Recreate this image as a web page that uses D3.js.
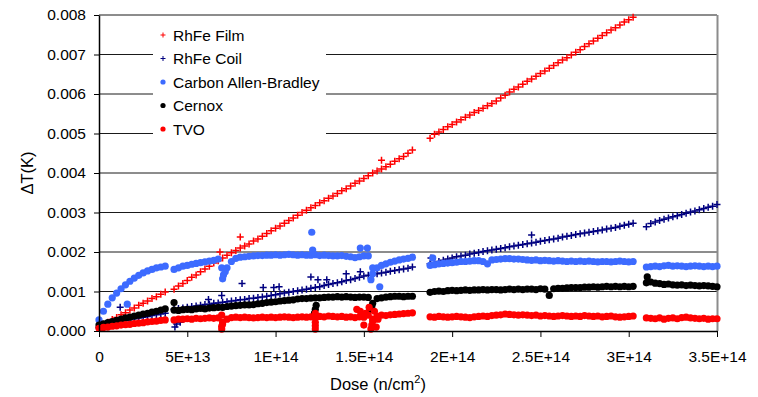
<!DOCTYPE html>
<html>
<head>
<meta charset="utf-8">
<script src="https://cdn.jsdelivr.net/npm/d3@7"></script>
<style>
  body { margin: 0; background: #fff; }
  svg { display: block; }
  text { font-family: "Liberation Sans", Arial, Helvetica, sans-serif; fill: #000; }
</style>
</head>
<body>
<svg id="chart" width="758" height="397"></svg>
<script>
// Neutron dose, in units of 1e12 n/cm² (four irradiation runs)
const dose = [
  0, 2.5, 5, 7.5, 10, 12.5, 15, 17.5, 20, 22.5, 25, 27.5, 30, 32.5, 35, 37.5,
  42.5, 45, 47.5, 50, 52.5, 55, 57.5, 60, 62.5, 65, 67.5,
  70, 72.5, 75, 77.5, 80, 82.5, 85, 87.5, 90, 92.5, 95,
  97.5, 100, 102.5, 105, 107.5, 110, 112.5, 115, 117.5, 120, 122.5,
  125, 127.5, 130, 132.5, 135, 137.5, 140, 142.5, 145, 147.5, 150,
  152.5, 155, 157.5, 160, 162.5, 165, 167.5, 170, 172.5, 175, 177.5,
  187.5, 190, 192.5, 195, 197.5, 200, 202.5, 205, 207.5, 210, 212.5,
  215, 217.5, 220, 222.5, 225, 227.5, 230, 232.5, 235, 237.5, 240,
  242.5, 245, 247.5, 250, 252.5, 255, 257.5, 260, 262.5, 265, 267.5,
  270, 272.5, 275, 277.5, 280, 282.5, 285, 287.5, 290, 292.5, 295,
  297.5, 300, 302.5,
  310, 312.5, 315, 317.5, 320, 322.5, 325, 327.5, 330, 332.5, 335, 337.5, 340, 342.5, 345, 347.5, 350
];

// Temperature shift ΔT of each sensor, in mK, aligned with dose (null = not measured)
const rhfeFilm = [
  0.1, 0.17, 0.22, 0.29, 0.34, 0.41, 0.46, 0.53, 0.58, 0.65, 0.7, 0.76, 0.82, 0.87, 0.93, 0.99,
  1.06, 1.14, 1.2, 1.28, 1.36, 1.42, 1.5, 1.57, 1.64, 1.72, 1.78,
  1.85, 1.92, 1.98, 2.04, 2.1, 2.15, 2.2, 2.28, 2.33, 2.4, 2.47,
  2.54, 2.6, 2.66, 2.73, 2.8, 2.86, 2.93, 3.0, 3.06, 3.12, 3.18,
  3.25, 3.3, 3.36, 3.42, 3.48, 3.55, 3.6, 3.67, 3.74, 3.8, 3.86,
  3.93, 4.0, 4.05, 4.1, 4.16, 4.22, 4.3, 4.36, 4.42, 4.5, 4.58,
  4.88, 4.98, 5.04, 5.1, 5.17, 5.23, 5.29, 5.35, 5.41, 5.47, 5.53,
  5.58, 5.64, 5.7, 5.76, 5.82, 5.9, 5.97, 6.05, 6.12, 6.18, 6.25,
  6.32, 6.38, 6.45, 6.52, 6.58, 6.65, 6.72, 6.79, 6.86, 6.92, 6.99,
  7.06, 7.12, 7.2, 7.27, 7.34, 7.41, 7.48, 7.55, 7.62, 7.68, 7.75,
  7.82, 7.88, 7.94,
  null, null, null, null, null, null, null, null, null, null, null, null, null, null, null, null, null
];
const rhfeCoil = [
  0.08, 0.12, 0.15, 0.18, 0.21, 0.24, 0.26, 0.29, 0.31, 0.33, 0.35, 0.37, 0.39, 0.41, 0.43, 0.45,
  0.55, 0.57, 0.58, 0.6, 0.62, 0.63, 0.65, 0.67, 0.68, 0.7, 0.71,
  0.73, 0.74, 0.76, 0.77, 0.79, 0.8, 0.82, 0.83, 0.85, 0.86, 0.88,
  0.9, 0.92, 0.94, 0.96, 0.98, 1.0, 1.02, 1.04, 1.06, 1.08, 1.1,
  1.12, 1.15, 1.18, 1.2, 1.22, 1.25, 1.28, 1.3, 1.33, 1.36, 1.39,
  1.41, 1.43, 1.45, 1.47, 1.49, 1.51, 1.53, 1.55, 1.57, 1.59, 1.62,
  1.7, 1.73, 1.76, 1.79, 1.82, 1.85, 1.88, 1.9, 1.92, 1.95, 1.97,
  1.99, 2.01, 2.03, 2.05, 2.07, 2.09, 2.11, 2.13, 2.15, 2.17, 2.19,
  2.21, 2.23, 2.25, 2.27, 2.29, 2.31, 2.33, 2.35, 2.38, 2.4, 2.42,
  2.44, 2.46, 2.48, 2.5, 2.52, 2.54, 2.56, 2.58, 2.6, 2.62, 2.65,
  2.68, 2.7, 2.73,
  2.64, 2.72, 2.76, 2.8, 2.83, 2.86, 2.89, 2.92, 2.95, 2.98, 3.01, 3.04, 3.07, 3.1, 3.13, 3.16, 3.2
];
const carbonAB = [
  0.28, 0.5, 0.68, 0.84, 0.96, 1.07, 1.17, 1.26, 1.34, 1.41, 1.47, 1.52, 1.56, 1.6, 1.62, 1.64,
  1.56, 1.6, 1.64, 1.66, 1.69, 1.71, 1.73, 1.75, 1.77, 1.79, 1.82,
  1.32, 1.6, 1.76, 1.84, 1.87, 1.88, 1.89, 1.9, 1.91, 1.91, 1.92,
  1.92, 1.93, 1.92, 1.93, 1.94, 1.93, 1.92, 1.93, 1.92, 1.92, 1.93,
  1.91, 1.92, 1.91, 1.9, 1.9, 1.91, 1.89, 1.88, 1.86, 1.88, 1.9,
  1.9, 1.45, 1.6, 1.66, 1.7, 1.74, 1.77, 1.8, 1.82, 1.84, 1.87,
  1.66, 1.68, 1.7, 1.71, 1.72, 1.73, 1.74, 1.76, 1.76, 1.77, 1.78,
  1.78, 1.76, 1.7, 1.8, 1.81, 1.82, 1.83, 1.83, 1.82, 1.82, 1.81,
  1.8, 1.79, 1.8, 1.78, 1.79, 1.78, 1.77, 1.78, 1.77, 1.76, 1.77,
  1.76, 1.77, 1.76, 1.77, 1.76, 1.75, 1.76, 1.76, 1.75, 1.76, 1.77,
  1.76, 1.75, 1.76,
  1.62, 1.63, 1.64, 1.63, 1.65, 1.66, 1.64, 1.65, 1.64, 1.63, 1.64, 1.65, 1.64, 1.63, 1.64, 1.63, 1.64
];
const cernox = [
  0.15, 0.18, 0.21, 0.24, 0.27, 0.3, 0.33, 0.35, 0.38, 0.4, 0.43, 0.45, 0.48, 0.5, 0.53, 0.56,
  0.53, 0.52, 0.54, 0.55, 0.54, 0.56, 0.57, 0.56, 0.58, 0.59, 0.6,
  0.6, 0.62, 0.63, 0.64, 0.65, 0.66, 0.66, 0.67, 0.69, 0.7, 0.72,
  0.73, 0.74, 0.76, 0.77, 0.78, 0.79, 0.81, 0.82, 0.82, 0.83, 0.84,
  0.84, 0.85, 0.86, 0.86, 0.87, 0.86, 0.87, 0.86, 0.85, 0.86, 0.86,
  0.85, 0.7, 0.82, 0.84, 0.86, 0.87, 0.88, 0.88, 0.87, 0.88, 0.88,
  0.98, 1.0, 1.01, 1.0, 1.02, 1.03, 1.02, 1.03, 1.04, 1.03, 1.04,
  1.04, 1.05, 1.04, 1.05, 1.05, 1.04, 1.05, 1.06, 1.05, 1.06, 1.05,
  1.06, 1.06, 1.05, 1.07, 1.06, 0.9, 1.07, 1.08, 1.08, 1.09, 1.1,
  1.1, 1.1, 1.11, 1.11, 1.12, 1.11, 1.12, 1.13, 1.12, 1.13, 1.12,
  1.13, 1.12, 1.13,
  1.22, 1.24, 1.21, 1.2, 1.18, 1.19, 1.17, 1.16, 1.17, 1.15, 1.16, 1.15, 1.14, 1.15, 1.14, 1.13, 1.12
];
const tvo = [
  0.07, 0.09, 0.1, 0.12, 0.13, 0.15, 0.16, 0.17, 0.19, 0.2, 0.21, 0.23, 0.24, 0.25, 0.27, 0.28,
  0.28, 0.3, 0.3, 0.31, 0.3, 0.32, 0.31, 0.32, 0.33, 0.32, 0.33,
  0.22, 0.3, 0.34, 0.35, 0.34, 0.35, 0.34, 0.33, 0.34, 0.35, 0.34,
  0.35, 0.34, 0.35, 0.36, 0.35, 0.34, 0.35, 0.36, 0.35, 0.36, 0.35,
  0.37, 0.36, 0.38, 0.37, 0.36, 0.37, 0.35, 0.36, 0.34, 0.36, 0.35,
  0.4, 0.3, 0.38, 0.4, 0.39, 0.41, 0.42, 0.43, 0.44, 0.45, 0.46,
  0.36, 0.35, 0.37, 0.36, 0.35, 0.36, 0.37, 0.36, 0.35, 0.34, 0.36,
  0.37, 0.38, 0.37, 0.39, 0.4, 0.41, 0.43, 0.42, 0.41, 0.4, 0.41,
  0.4, 0.39, 0.4, 0.38, 0.39, 0.38, 0.37, 0.38, 0.39, 0.38, 0.37,
  0.38, 0.37, 0.39, 0.38, 0.37, 0.38, 0.36, 0.37, 0.38, 0.36, 0.35,
  0.36, 0.37, 0.38,
  0.33, 0.32, 0.31, 0.33, 0.3, 0.32, 0.33, 0.31, 0.34, 0.35, 0.33, 0.32, 0.31, 0.32, 0.3, 0.31, 0.31
];

// Isolated readings off the main trends: [dose (1e12 n/cm²), ΔT (mK)]
const rhfeFilmExtra = [[68.5, 2.0], [80, 2.38], [160, 4.32]];
const rhfeCoilExtra = [[12, 0.6], [43, 0.1], [44, 0.18], [46, 0.22], [62, 0.8], [69.5, 0.9],
  [81, 1.2], [93, 1.1], [99, 1.1], [102, 1.12], [120, 1.37], [124, 1.3], [129, 1.3],
  [140, 1.45], [148, 1.5], [188, 1.85], [245, 2.43]];
const carbonABExtra = [[16, 0.68], [69.5, 1.6], [70.5, 1.42], [71.5, 1.5], [120.5, 2.5],
  [121, 2.05], [148, 2.1], [152, 2.1], [154, 1.3], [155, 1.6], [159, 1.12], [189, 1.85]];
const cernoxExtra = [[42.5, 0.72], [122, 0.45], [122.5, 0.55], [123, 0.65], [153.5, 0.55],
  [154.5, 0.62], [310.5, 1.37]];
const tvoExtra = [[69.5, 0.05], [69.5, 0.12], [70, 0.18], [69.5, 0.4], [122.5, 0.05],
  [122.5, 0.13], [122.5, 0.22], [122.5, 0.45], [146, 0.55], [148, 0.5], [150, 0.15],
  [151, 0.45], [153, 0.6], [154, 0.05], [154.5, 0.15], [155, 0.25], [156, 0.5],
  [157, 0.1], [158, 0.3]];

const seriesNames = ["RhFe Film", "RhFe Coil", "Carbon Allen-Bradley", "Cernox", "TVO"];
const seriesValues = [rhfeFilm, rhfeCoil, carbonAB, cernox, tvo];
const seriesExtras = [rhfeFilmExtra, rhfeCoilExtra, carbonABExtra, cernoxExtra, tvoExtra];
const seriesColors = ["#ff0000", "#000080", "#3d6bff", "#000000", "#ff0000"];
const seriesShapes = ["cross", "cross", "dot", "dot", "dot"];

const xTickValues = [0, 5e13, 1e14, 1.5e14, 2e14, 2.5e14, 3e14, 3.5e14];
const xTickLabels = ["0", "5E+13", "1E+14", "1.5E+14", "2E+14", "2.5E+14", "3E+14", "3.5E+14"];
const yTickValues = [0, 0.001, 0.002, 0.003, 0.004, 0.005, 0.006, 0.007, 0.008];
const yTickLabels = ["0.000", "0.001", "0.002", "0.003", "0.004", "0.005", "0.006", "0.007", "0.008"];

const svg = d3.select("#chart");
const x = d3.scaleLinear().domain([0, 3.5e14]).range([99, 717]);
const y = d3.scaleLinear().domain([0, 0.008]).range([331, 15]);

// horizontal gridlines
svg.append("g").selectAll("line")
  .data(yTickValues.slice(1))
  .join("line")
  .attr("x1", x(0)).attr("x2", x(3.5e14))
  .attr("y1", d => y(d)).attr("y2", d => y(d))
  .attr("stroke", "#1a1a1a").attr("stroke-width", 1);

// plot-area right edge
svg.append("line")
  .attr("x1", x(3.5e14) + 0.5).attr("x2", x(3.5e14) + 0.5)
  .attr("y1", y(0.008)).attr("y2", y(0))
  .attr("stroke", "#8c8c8c").attr("stroke-width", 2);

// data points
const crossPath = "M-3.5,0H3.5M0,-3.5V3.5";
seriesValues.forEach((vals, s) => {
  const pts = [];
  vals.forEach((v, i) => { if (v !== null) pts.push([dose[i] * 1e12, v / 1000]); });
  seriesExtras[s].forEach(p => pts.push([p[0] * 1e12, p[1] / 1000]));
  const g = svg.append("g");
  if (seriesShapes[s] === "cross") {
    g.selectAll("path").data(pts).join("path")
      .attr("d", crossPath)
      .attr("transform", d => `translate(${x(d[0])},${y(d[1])})`)
      .attr("stroke", seriesColors[s]).attr("stroke-width", 1.5).attr("fill", "none");
  } else {
    g.selectAll("circle").data(pts).join("circle")
      .attr("cx", d => x(d[0])).attr("cy", d => y(d[1]))
      .attr("r", 3.6).attr("fill", seriesColors[s]);
  }
});

// axes
const xAxis = svg.append("g").attr("transform", `translate(0,${y(0)})`)
  .call(d3.axisBottom(x).tickValues(xTickValues)
    .tickFormat((d, i) => xTickLabels[i]).tickSize(6).tickSizeOuter(0).tickPadding(14));
const yAxis = svg.append("g").attr("transform", `translate(${x(0)},0)`)
  .call(d3.axisLeft(y).tickValues(yTickValues)
    .tickFormat((d, i) => yTickLabels[i]).tickSize(5).tickSizeOuter(0).tickPadding(8));
[xAxis, yAxis].forEach(a => {
  a.selectAll("path.domain").attr("stroke", "#000").attr("stroke-width", 1.5);
  a.selectAll(".tick line").attr("stroke", "#000");
  a.selectAll(".tick text").attr("font-size", 15.5).attr("fill", "#000")
    .attr("font-family", '"Liberation Sans", Arial, sans-serif');
});

// axis titles
const xTitle = svg.append("text").attr("x", 378).attr("y", 390)
  .attr("text-anchor", "middle").attr("font-size", 16.5);
xTitle.append("tspan").text("Dose (n/cm");
xTitle.append("tspan").attr("dy", -7).attr("font-size", 11).text("2");
xTitle.append("tspan").attr("dy", 7).text(")");

svg.append("text")
  .attr("transform", `translate(33,${(y(0) + y(0.008)) / 2}) rotate(-90)`)
  .attr("text-anchor", "middle").attr("font-size", 16.5).text("\u0394T(K)");

// legend
svg.append("rect").attr("x", 153).attr("y", 20).attr("width", 173).attr("height", 124)
  .attr("fill", "#fff");
const legend = svg.append("g");
seriesNames.forEach((name, s) => {
  const cy = 35 + s * 23.5;
  if (seriesShapes[s] === "cross") {
    legend.append("path").attr("d", "M-2.5,0H2.5M0,-2.5V2.5")
      .attr("transform", `translate(163,${cy})`)
      .attr("stroke", seriesColors[s]).attr("stroke-width", 1).attr("fill", "none");
  } else {
    legend.append("circle").attr("cx", 163).attr("cy", cy).attr("r", 2.6)
      .attr("fill", seriesColors[s]);
  }
  legend.append("text").attr("x", 173).attr("y", cy + 5.5).attr("font-size", 15.5).text(name);
});
</script>
</body>
</html>
